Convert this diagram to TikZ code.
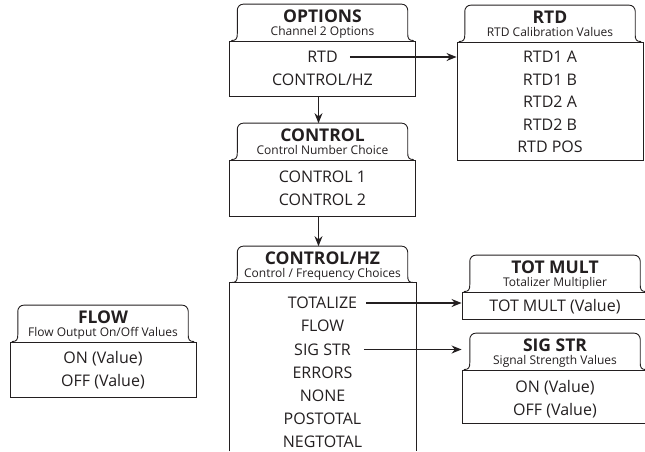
\documentclass[tikz,border=0pt]{standalone}
\usepackage{fontspec}
\setmainfont{Open Sans}
\usetikzlibrary{arrows.meta,positioning}
\definecolor{inkgray}{HTML}{231F20}

\begin{document}
\begin{tikzpicture}[
  x=1pt, y=1pt,
  >={Stealth[length=10pt,width=8pt]},
  body/.style={draw=inkgray, line width=0.9pt, minimum width=186pt, inner sep=0pt},
  head/.style={minimum width=170pt, minimum height=36pt, inner sep=0pt},
  title/.style={font=\fontsize{17.5}{17.5}\selectfont\bfseries, text=inkgray,
    inner sep=0pt, text height=12pt, text depth=0pt},
  sub/.style={font=\fontsize{12}{12}\selectfont, text=inkgray,
    inner sep=0pt, text height=8pt, text depth=0pt},
  item/.style={font=\fontsize{16}{16}\selectfont, text=inkgray,
    inner sep=0pt, text height=11.4pt, text depth=0pt},
  tabline/.style={draw=inkgray, line width=0.9pt},
  link/.style={->, draw=inkgray, line width=1.1pt}
]
\useasboundingbox (0,0) rectangle (645,-451);

% Channel 2 options
\node[body, minimum height=55pt] (opt) at (322.5,-68.5) {};
\node[head, above=0pt of opt] (opth) {};
\node[title] (optt) at ([yshift=-12pt]opth.north) {OPTIONS};
\node[sub] (opts) at ([yshift=9pt]opth.south) {Channel 2 Options};
\node[item] (itrtd) at (322.5,-57) {RTD};
\node[item] (itchz) at (322.5,-80) {CONTROL/HZ};

% RTD calibration
\node[body, minimum height=118pt] (rtd) at (550,-101) {};
\node[head, above=0pt of rtd] (rtdh) {};
\node[title] (rtdt) at ([yshift=-12pt]rtdh.north) {RTD};
\node[sub] (rtds) at ([yshift=9pt]rtdh.south) {RTD Calibration Values};
\node[item] (r1a) at (550,-57) {RTD1 A};
\node[item] (r1b) at (550,-79.5) {RTD1 B};
\node[item] (r2a) at (550,-102) {RTD2 A};
\node[item] (r2b) at (550,-124.5) {RTD2 B};
\node[item] (rpos) at (550,-147) {RTD POS};

% control number
\node[body, minimum height=56pt] (ctl) at (322.5,-188) {};
\node[head, above=0pt of ctl] (ctlh) {};
\node[title] (ctlt) at ([yshift=-12pt]ctlh.north) {CONTROL};
\node[sub] (ctls) at ([yshift=9pt]ctlh.south) {Control Number Choice};
\node[item] (c1) at (322.5,-176.5) {CONTROL 1};
\node[item] (c2) at (322.5,-199.5) {CONTROL 2};

% control / frequency (open at the bottom)
\node[body, draw=none, minimum height=168pt] (hz) at (322.5,-367) {};
\draw[tabline] (hz.south west) -- (hz.north west) -- (hz.north east) -- (hz.south east);
\node[head, above=0pt of hz] (hzh) {};
\node[title] (hzt) at ([yshift=-12pt]hzh.north) {CONTROL/HZ};
\node[sub] (hzs) at ([yshift=9pt]hzh.south) {Control / Frequency Choices};
\node[item] (ittot) at (322.5,-303) {TOTALIZE};
\node[item] (itflow) at (322.5,-326) {FLOW};
\node[item] (itsig) at (322.5,-349.5) {SIG STR};
\node[item] (iterr) at (322.5,-373) {ERRORS};
\node[item] (itnone) at (322.5,-396) {NONE};
\node[item] (itpos) at (322.5,-419) {POSTOTAL};
\node[item] (itneg) at (322.5,-442) {NEGTOTAL};

% totalizer multiplier
\node[body, minimum height=27pt] (tot) at (555,-305.5) {};
\node[head, above=0pt of tot] (toth) {};
\node[title] (tott) at ([yshift=-12pt]toth.north) {TOT MULT};
\node[sub] (tots) at ([yshift=9pt]toth.south) {Totalizer Multiplier};
\node[item] (totv) at (555,-305.5) {TOT MULT (Value)};

% signal strength
\node[body, minimum height=53pt] (sig) at (555,-396.5) {};
\node[head, above=0pt of sig] (sigh) {};
\node[title] (sigt) at ([yshift=-12pt]sigh.north) {SIG STR};
\node[sub] (sigs) at ([yshift=9pt]sigh.south) {Signal Strength Values};
\node[item] (sigon) at (555,-387) {ON (Value)};
\node[item] (sigoff) at (555,-410) {OFF (Value)};

% flow output
\node[body, minimum height=55pt] (flw) at (103,-369.5) {};
\node[head, above=0pt of flw] (flwh) {};
\node[title] (flwt) at ([yshift=-12pt]flwh.north) {FLOW};
\node[sub] (flws) at ([yshift=9pt]flwh.south) {Flow Output On/Off Values};
\node[item] (flwon) at (103,-358) {ON (Value)};
\node[item] (flwoff) at (103,-381) {OFF (Value)};

% tab outlines
\foreach \n in {opth,rtdh,ctlh,hzh,toth,sigh,flwh}
  \draw[tabline] ([xshift=-6pt]\n.south west)
    .. controls ([xshift=-1pt]\n.south west) and ([yshift=2pt]\n.south west) .. ([yshift=7pt]\n.south west)
    -- ([yshift=-6pt]\n.north west) arc[start angle=180, end angle=90, radius=6pt]
    -- ([xshift=-6pt]\n.north east) arc[start angle=90, end angle=0, radius=6pt]
    -- ([yshift=7pt]\n.south east)
    .. controls ([yshift=2pt]\n.south east) and ([xshift=1pt]\n.south east) .. ([xshift=6pt]\n.south east);

% connectors
\draw[link] ([xshift=12pt]itrtd.east) -- (rtd.west |- itrtd);
\draw[link] ([xshift=-4pt]opt.south) -- ([xshift=-4pt]ctlh.north);
\draw[link] ([xshift=-4pt]ctl.south) -- ([xshift=-4pt]hzh.north);
\draw[link] ([xshift=9pt]ittot.east) -- (tot.west |- ittot);
\draw[link] ([xshift=13pt]itsig.east) -- (sig.west |- itsig);
\end{tikzpicture}
\end{document}
